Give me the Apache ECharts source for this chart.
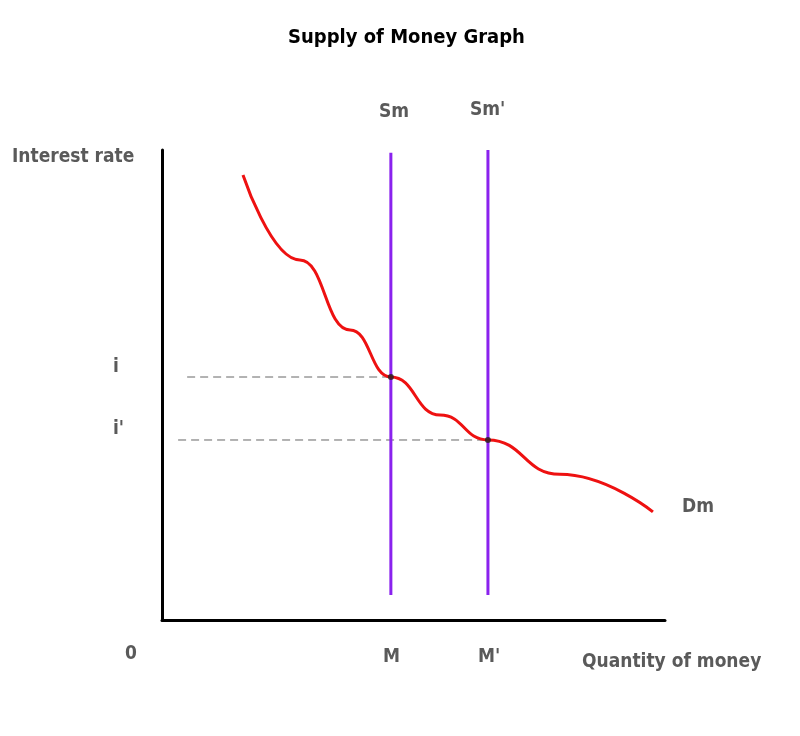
<!DOCTYPE html>
<html>
<head>
<meta charset="utf-8">
<script src="https://cdn.jsdelivr.net/npm/echarts@6/dist/echarts.min.js"></script>
<style>html,body{margin:0;padding:0;background:#fff}#main{width:800px;height:736px}</style>
</head>
<body>
<div id="main"></div>
<script>
// demand curve points (quantity, rate)
var demandX = [16.1, 27.4, 37.4, 45.5, 55.3, 64.8, 79.1, 97.6]
var demandY = [94.7, 76.6, 61.7, 51.7, 43.6, 38.3, 31.0, 23.0]
// supply lines
var supplyX = [45.5, 64.8]
var supplyTop = [99.4, 100]
var supplyBottom = [5.3, 5.3]
// equilibrium rates
var rateY = [51.7, 38.3]
var rateStart = [5.0, 3.2]

var font = '"DejaVu Sans Condensed", "DejaVu Sans", sans-serif'
var grey = '#5a5a5a'

var dmData = demandX.map(function (x, i) { return [x, demandY[i]] })

var series = [{
    type: 'line',
    data: dmData,
    smooth: true,
    smoothMonotone: 'x',
    showSymbol: false,
    lineStyle: { color: '#ee1111', width: 3 },
    z: 3
}]
supplyX.forEach(function (x, i) {
    series.push({
        type: 'line',
        data: [[x, supplyBottom[i]], [x, supplyTop[i]]],
        showSymbol: false,
        lineStyle: { color: '#8a22ee', width: 3 },
        z: 2
    })
    series.push({
        type: 'line',
        data: [[rateStart[i], rateY[i]], [x, rateY[i]]],
        showSymbol: false,
        lineStyle: { color: '#666', width: 1, type: [8, 5] },
        z: 1
    })
})
series.push({
    type: 'scatter',
    data: supplyX.map(function (x, i) { return [x, rateY[i]] }),
    symbolSize: 6,
    itemStyle: { color: '#222' },
    z: 4
})

var txt = function (x, y, s, size) {
    return { type: 'text', left: x, top: y, style: { text: s, font: 'bold ' + (size || 19) + 'px ' + font, fill: grey } }
}

var chart = echarts.init(document.getElementById('main'))
chart.setOption({
    animation: false,
    grid: { left: 162, top: 150, right: 135, bottom: 116 },
    xAxis: {
        type: 'value', min: 0, max: 100,
        axisLine: { lineStyle: { color: '#000', width: 3 } },
        axisTick: { show: false }, axisLabel: { show: false }, splitLine: { show: false }
    },
    yAxis: {
        type: 'value', min: 0, max: 100,
        axisLine: { show: true, lineStyle: { color: '#000', width: 3 } },
        axisTick: { show: false }, axisLabel: { show: false }, splitLine: { show: false }
    },
    graphic: [
        { type: 'text', left: 288, top: 28, style: { text: 'Supply of Money Graph', font: 'bold 20px ' + font, fill: '#000' } },
        txt(12, 148, 'Interest rate'),
        txt(113, 358, 'i'),
        txt(113, 420, "i'"),
        txt(125, 645, '0'),
        txt(383, 648, 'M'),
        txt(478, 648, "M'"),
        txt(582, 653, 'Quantity of money'),
        txt(379, 103, 'Sm'),
        txt(470, 101, "Sm'"),
        txt(682, 498, 'Dm')
    ],
    series: series
})
</script>
</body>
</html>
